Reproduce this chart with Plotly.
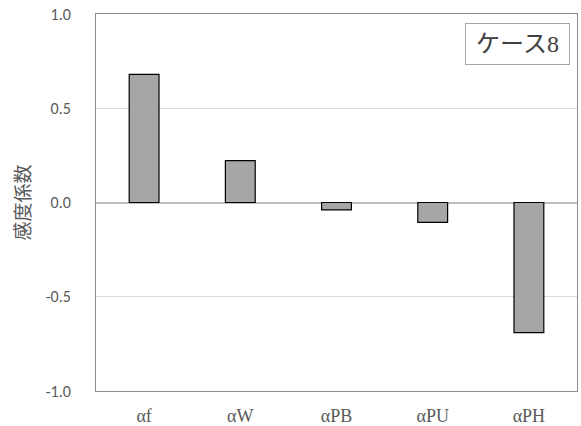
import plotly.graph_objects as go

categories = ["αf", "αW", "αPB", "αPU", "αPH"]
values = [0.68, 0.222, -0.039, -0.105, -0.69]
y_ticks = [-1.0, -0.5, 0.0, 0.5, 1.0]
y_tick_labels = ["-1.0", "-0.5", "0.0", "0.5", "1.0"]

fig = go.Figure(go.Bar(
    x=categories, y=values,
    marker=dict(color="#a6a6a6", line=dict(color="#000000", width=1.2)),
))

fig.update_layout(
    width=581, height=426,
    margin=dict(l=96, r=4, t=14, b=35),
    plot_bgcolor="white", paper_bgcolor="white",
    bargap=0.69,
    showlegend=False,
    xaxis=dict(
        showline=True, linecolor="#8c8c8c", linewidth=1, mirror=True,
        ticks="", showgrid=False, ticklabelstandoff=8, automargin=False,
        tickfont=dict(family="Liberation Serif, Noto Sans CJK JP", size=18, color="#595959"),
    ),
    yaxis=dict(
        range=[-1.0, 1.0], tickvals=y_ticks, ticktext=y_tick_labels,
        showline=True, linecolor="#8c8c8c", linewidth=1, mirror=True,
        showgrid=True, gridcolor="#d9d9d9", gridwidth=1,
        zeroline=True, zerolinecolor="#bfbfbf", zerolinewidth=1.5,
        ticks="", ticklen=0, ticklabelstandoff=21, automargin=False,
        tickfont=dict(family="Carlito, Liberation Sans, sans-serif", size=16, color="#595959"),
        title=dict(text="感度係数", font=dict(family="Noto Sans CJK JP", size=19, color="#595959"), standoff=9),
    ),
    annotations=[dict(
        text="ケース8", xref="paper", yref="paper",
        x=0.9854, y=0.976, xanchor="right", yanchor="top",
        showarrow=False, width=95, height=32,
        font=dict(family="Liberation Serif, Noto Sans CJK JP", size=24, color="#404040"),
        bordercolor="#a6a6a6", borderwidth=1, borderpad=4, bgcolor="white",
    )],
)

fig.write_html("out.html", config={"displayModeBar": False},
               post_script="document.body.style.margin='0';")
